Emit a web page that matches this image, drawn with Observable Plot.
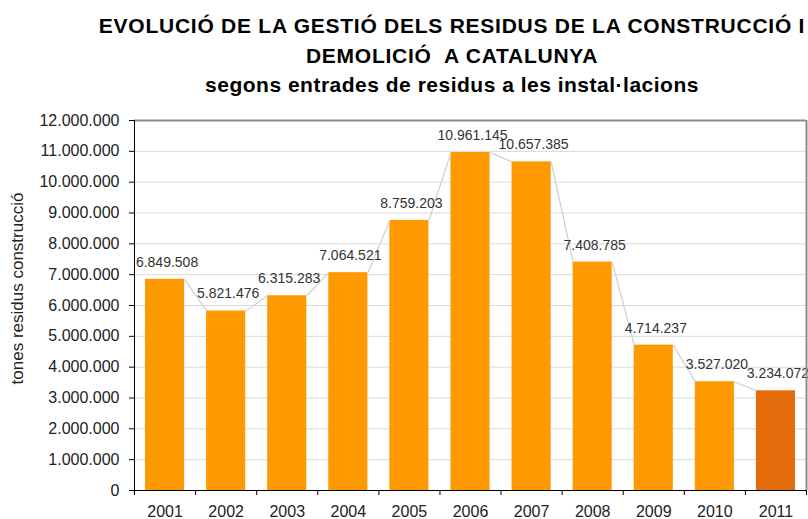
<!DOCTYPE html>
<html>
<head>
<meta charset="utf-8">
<script src="https://cdn.jsdelivr.net/npm/d3@7"></script>
<script src="https://cdn.jsdelivr.net/npm/@observablehq/plot@0.6"></script>
<style>
  html, body { margin: 0; padding: 0; background: #fff; }
  body { width: 808px; height: 519px; overflow: hidden; font-family: "Liberation Sans", Arial, sans-serif; }
  #title { width: 808px; height: 100px; box-sizing: border-box; padding-left: 96px; padding-top: 11px; text-align: center; color: #000; font-weight: bold; overflow: hidden; }
  #title div { line-height: 29.5px; white-space: nowrap; font-size: 21px; }
  #t1 { letter-spacing: 0.75px; }
  #t2 { letter-spacing: 0.75px; }
  #t3 { letter-spacing: 0.5px; }
  svg { display: block; }
</style>
</head>
<body>
<div id="title">
  <div id="t1">EVOLUCIÓ DE LA GESTIÓ DELS RESIDUS DE LA CONSTRUCCIÓ I</div>
  <div id="t2">DEMOLICIÓ&nbsp; A CATALUNYA</div>
  <div id="t3">segons entrades de residus a les instal·lacions</div>
</div>
<div id="chart"></div>
<script>
const years = [2001, 2002, 2003, 2004, 2005, 2006, 2007, 2008, 2009, 2010, 2011];
const tones = [6849508, 5821476, 6315283, 7064521, 8759203, 10961145, 10657385, 7408785, 4714237, 3527020, 3234072];
const yTicks = [0, 1e6, 2e6, 3e6, 4e6, 5e6, 6e6, 7e6, 8e6, 9e6, 10e6, 11e6, 12e6];
const yTitle = "tones residus construcció";

const fmt = d3.formatLocale({decimal: ",", thousands: ".", grouping: [3], currency: ["", "€"]}).format(",d");
const half = 0.32;
const orange = "#FF9900";
const lastOrange = "#E46C0A";

const data = years.map((y, i) => ({year: y, value: tones[i], last: i === years.length - 1}));
const pairs = data.slice(0, -1).map((d, i) => ({a: d, b: data[i + 1]}));
const boundaries = [years[0] - 0.5, ...years.map(y => y + 0.5)];

const chart = Plot.plot({
  width: 808,
  height: 419,
  marginLeft: 134,
  marginRight: 2,
  marginTop: 20,
  marginBottom: 29,
  style: {fontFamily: "'Liberation Sans', Arial, sans-serif", background: "#fff"},
  x: {type: "linear", domain: [years[0] - 0.5, years[years.length - 1] + 0.5]},
  y: {domain: [0, 12e6]},
  marks: [
    Plot.gridY(yTicks.slice(1, -1), {stroke: "#d9d9d9", strokeOpacity: 1}),
    Plot.rectY(data, {x1: d => d.year - half, x2: d => d.year + half, y1: 0, y2: "value", fill: d => d.last ? lastOrange : orange}),
    Plot.link(pairs, {x1: d => d.a.year + half, y1: d => d.a.value, x2: d => d.b.year - half, y2: d => d.b.value, stroke: "#cfcfcf", strokeWidth: 1.2}),
    Plot.text(data, {x: "year", y: "value", text: d => fmt(d.value), dy: -17, dx: 2, fontSize: 14, fill: "#333"}),
    Plot.ruleY([12e6], {stroke: "#8c8c8c", strokeWidth: 2}),
    Plot.ruleX([years[years.length - 1] + 0.5], {stroke: "#8c8c8c", strokeWidth: 2}),
    Plot.ruleY([0], {stroke: "#000"}),
    Plot.ruleX([years[0] - 0.5], {stroke: "#000"}),
    Plot.axisY(yTicks, {tickFormat: fmt, tickSize: 5, tickPadding: 10, fontSize: 16, label: null, color: "#222", stroke: "#000"}),
    Plot.axisX(boundaries, {tickSize: 5, tickFormat: () => "", label: null, stroke: "#000"}),
    Plot.axisX(years, {tickSize: 0, tickPadding: 15, tickFormat: d => String(d), fontSize: 16, label: null, color: "#222"}),
    Plot.text([yTitle], {frameAnchor: "left", textAnchor: "middle", text: d => d, rotate: -90, dx: -116.5, dy: -17, fontSize: 17, fill: "#222"})
  ]
});
document.getElementById("chart").appendChild(chart);
</script>
</body>
</html>
